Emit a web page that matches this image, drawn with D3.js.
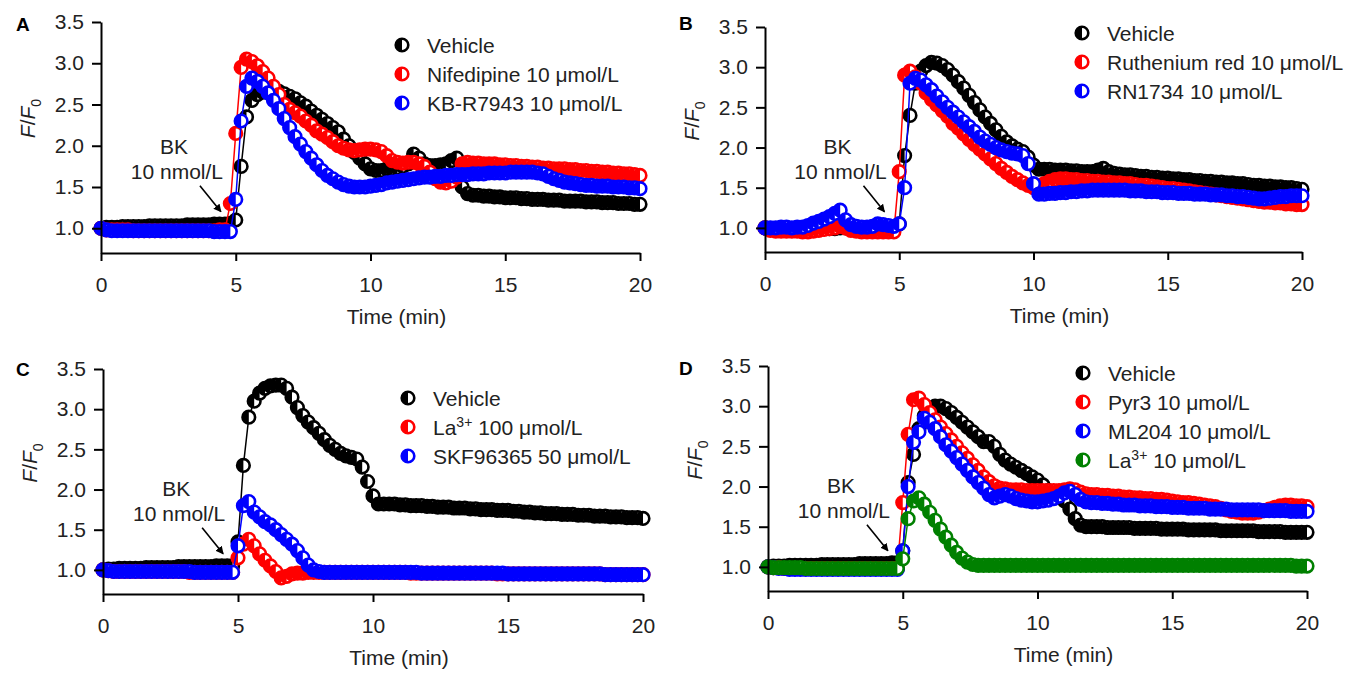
<!DOCTYPE html>
<html>
<head>
<meta charset="utf-8">
<script src="https://cdn.jsdelivr.net/npm/d3@7"></script>
<style>
	body { margin: 0; background: #fff; }
	text { font-family: "Liberation Sans", Arial, sans-serif; }
</style>
</head>
<body>
<svg id="fig" width="1349" height="675"></svg>
<script>
// sampling times (min), shared by every trace
const times = [
	0,0.2,0.4,0.6,0.8,1,1.2,1.4,1.6,1.8,
	2,2.2,2.4,2.6,2.8,3,3.2,3.4,3.6,3.8,
	4,4.2,4.4,4.6,4.8,5,5.2,5.4,5.6,5.8,
	6,6.2,6.4,6.6,6.8,7,7.2,7.4,7.6,7.8,
	8,8.2,8.4,8.6,8.8,9,9.2,9.4,9.6,9.8,
	10,10.2,10.4,10.6,10.8,11,11.2,11.4,11.6,11.8,
	12,12.2,12.4,12.6,12.8,13,13.2,13.4,13.6,13.8,
	14,14.2,14.4,14.6,14.8,15,15.2,15.4,15.6,15.8,
	16,16.2,16.4,16.6,16.8,17,17.2,17.4,17.6,17.8,
	18,18.2,18.4,18.6,18.8,19,19.2,19.4,19.6,19.8,
	20];

const xTicks = [0, 5, 10, 15, 20];
const yTicks = [1.0, 1.5, 2.0, 2.5, 3.0, 3.5];

// panel A
const vehicleA = [
	1.00,1.01,1.01,1.01,1.02,1.02,1.02,1.02,1.02,1.03,
	1.03,1.03,1.03,1.03,1.03,1.03,1.04,1.04,1.04,1.04,
	1.04,1.05,1.05,1.05,1.06,1.10,1.75,2.35,2.55,2.62,
	2.65,2.68,2.67,2.66,2.63,2.60,2.57,2.52,2.48,2.42,
	2.37,2.32,2.27,2.22,2.17,2.08,2.00,1.92,1.85,1.78,
	1.72,1.70,1.70,1.72,1.72,1.73,1.75,1.78,1.90,1.85,
	1.78,1.76,1.76,1.77,1.78,1.82,1.85,1.50,1.42,1.40,
	1.40,1.39,1.39,1.38,1.38,1.37,1.37,1.37,1.36,1.36,
	1.35,1.35,1.35,1.34,1.34,1.34,1.33,1.33,1.33,1.33,
	1.32,1.32,1.32,1.31,1.31,1.31,1.30,1.30,1.30,1.29,
	1.29];
const nifedipineA = [
	1.00,0.98,0.98,0.98,0.98,0.98,0.97,0.97,0.97,0.97,
	0.97,0.97,0.97,0.97,0.97,0.97,0.97,0.97,0.97,0.97,
	0.97,0.97,0.98,0.98,1.30,2.15,2.95,3.05,3.02,2.97,
	2.90,2.82,2.72,2.62,2.50,2.44,2.40,2.36,2.30,2.25,
	2.18,2.14,2.10,2.05,2.00,1.97,1.95,1.94,1.95,1.96,
	1.96,1.95,1.93,1.88,1.82,1.80,1.79,1.80,1.80,1.78,
	1.75,1.68,1.60,1.56,1.55,1.57,1.62,1.78,1.80,1.79,
	1.79,1.78,1.78,1.78,1.77,1.77,1.76,1.76,1.75,1.75,
	1.74,1.74,1.73,1.73,1.72,1.72,1.72,1.71,1.71,1.70,
	1.70,1.69,1.69,1.68,1.68,1.67,1.67,1.66,1.66,1.65,
	1.64];
const kbr7943A = [
	1.00,0.98,0.97,0.97,0.97,0.97,0.97,0.97,0.97,0.97,
	0.97,0.97,0.97,0.97,0.97,0.97,0.97,0.97,0.97,0.97,
	0.97,0.96,0.96,0.96,0.96,1.35,2.30,2.72,2.82,2.78,
	2.72,2.64,2.55,2.45,2.33,2.22,2.11,2.02,1.93,1.85,
	1.77,1.70,1.64,1.60,1.56,1.53,1.51,1.50,1.50,1.50,
	1.51,1.52,1.53,1.55,1.56,1.57,1.58,1.59,1.60,1.61,
	1.62,1.62,1.63,1.63,1.64,1.64,1.65,1.65,1.65,1.66,
	1.66,1.66,1.67,1.67,1.67,1.67,1.68,1.68,1.68,1.68,
	1.68,1.67,1.66,1.63,1.60,1.58,1.56,1.55,1.54,1.53,
	1.52,1.52,1.51,1.51,1.51,1.50,1.50,1.50,1.49,1.49,
	1.48];

// panel B
const vehicleB = [
	1.00,0.99,0.99,0.99,0.99,0.99,0.99,0.99,0.99,0.99,
	0.99,0.99,0.99,0.99,1.00,1.00,1.00,1.00,1.00,1.00,
	1.00,1.00,1.00,1.01,1.01,1.05,1.90,2.40,2.80,2.95,
	3.02,3.06,3.05,3.02,2.97,2.90,2.82,2.74,2.65,2.56,
	2.47,2.38,2.30,2.22,2.14,2.07,2.02,1.98,1.95,1.88,
	1.78,1.73,1.73,1.73,1.72,1.72,1.72,1.71,1.71,1.70,
	1.70,1.70,1.72,1.74,1.70,1.68,1.67,1.66,1.66,1.65,
	1.64,1.64,1.63,1.63,1.62,1.62,1.61,1.61,1.60,1.60,
	1.59,1.59,1.58,1.58,1.57,1.57,1.56,1.56,1.55,1.55,
	1.54,1.53,1.53,1.52,1.52,1.51,1.51,1.50,1.50,1.49,
	1.48];
const rutheniumB = [
	1.00,0.97,0.96,0.96,0.96,0.96,0.96,0.95,0.95,0.96,
	0.97,0.98,0.99,1.00,1.02,1.00,0.97,0.96,0.95,0.95,
	0.95,0.95,0.95,0.95,0.95,1.70,2.90,2.95,2.88,2.80,
	2.68,2.60,2.53,2.46,2.39,2.30,2.24,2.17,2.10,2.04,
	1.98,1.92,1.86,1.80,1.74,1.69,1.64,1.60,1.56,1.53,
	1.50,1.50,1.55,1.58,1.60,1.61,1.61,1.60,1.60,1.59,
	1.59,1.58,1.58,1.57,1.57,1.56,1.56,1.55,1.55,1.54,
	1.53,1.53,1.52,1.51,1.50,1.49,1.49,1.48,1.47,1.46,
	1.45,1.44,1.43,1.42,1.41,1.40,1.39,1.38,1.37,1.36,
	1.35,1.34,1.33,1.32,1.32,1.31,1.31,1.30,1.30,1.29,
	1.29];
const rn1734B = [
	1.00,1.00,1.00,1.01,1.01,1.00,1.01,1.01,1.03,1.06,
	1.08,1.11,1.14,1.18,1.22,1.10,1.04,1.02,1.01,1.01,
	1.02,1.05,1.04,1.03,1.02,1.05,1.50,2.80,2.86,2.84,
	2.78,2.72,2.64,2.57,2.50,2.44,2.38,2.32,2.26,2.20,
	2.13,2.08,2.04,2.00,1.97,1.95,1.93,1.92,1.90,1.80,
	1.55,1.42,1.42,1.43,1.43,1.44,1.44,1.45,1.45,1.46,
	1.46,1.47,1.47,1.47,1.47,1.47,1.47,1.47,1.46,1.46,
	1.46,1.45,1.45,1.45,1.44,1.44,1.44,1.43,1.43,1.43,
	1.42,1.42,1.42,1.41,1.41,1.41,1.40,1.40,1.39,1.39,
	1.38,1.37,1.36,1.36,1.37,1.38,1.39,1.39,1.40,1.40,
	1.40];

// panel C
const vehicleC = [
	1.00,1.01,1.01,1.02,1.02,1.02,1.02,1.02,1.03,1.03,
	1.03,1.03,1.03,1.03,1.04,1.04,1.04,1.04,1.04,1.04,
	1.04,1.05,1.05,1.05,1.05,1.35,2.30,2.90,3.10,3.20,
	3.26,3.29,3.30,3.30,3.26,3.15,3.02,2.92,2.84,2.77,
	2.70,2.62,2.55,2.50,2.45,2.42,2.40,2.38,2.28,2.10,
	1.92,1.82,1.82,1.82,1.82,1.81,1.81,1.80,1.80,1.80,
	1.79,1.79,1.78,1.78,1.78,1.77,1.77,1.77,1.76,1.76,
	1.75,1.75,1.75,1.74,1.74,1.74,1.73,1.73,1.72,1.72,
	1.71,1.71,1.70,1.70,1.70,1.69,1.69,1.69,1.68,1.68,
	1.68,1.67,1.67,1.67,1.66,1.66,1.66,1.65,1.65,1.65,
	1.64];
const la100C = [
	1.00,0.99,0.98,0.98,0.98,0.98,0.98,0.98,0.98,0.98,
	0.98,0.98,0.98,0.98,0.98,0.98,0.97,0.97,0.97,0.97,
	0.97,0.97,0.97,0.97,0.97,1.15,1.32,1.38,1.30,1.20,
	1.12,1.05,0.98,0.90,0.92,0.95,0.96,0.96,0.97,0.97,
	0.97,0.97,0.97,0.97,0.97,0.97,0.97,0.97,0.97,0.97,
	0.97,0.97,0.97,0.97,0.97,0.97,0.97,0.96,0.96,0.96,
	0.96,0.96,0.96,0.96,0.96,0.96,0.96,0.96,0.96,0.96,
	0.96,0.96,0.96,0.95,0.95,0.95,0.95,0.95,0.95,0.95,
	0.95,0.95,0.95,0.95,0.95,0.95,0.95,0.95,0.95,0.95,
	0.95,0.95,0.95,0.94,0.94,0.94,0.94,0.94,0.94,0.94,
	0.94];
const skfC = [
	1.00,0.99,0.98,0.98,0.98,0.98,0.98,0.98,0.98,0.98,
	0.98,0.98,0.98,0.98,0.98,0.98,0.98,0.97,0.97,0.97,
	0.97,0.97,0.97,0.97,0.97,1.30,1.80,1.85,1.72,1.66,
	1.60,1.56,1.50,1.44,1.38,1.32,1.24,1.15,1.06,1.00,
	0.98,0.97,0.97,0.97,0.97,0.97,0.97,0.97,0.97,0.97,
	0.97,0.97,0.97,0.97,0.97,0.97,0.97,0.97,0.97,0.96,
	0.96,0.96,0.96,0.96,0.96,0.96,0.96,0.96,0.96,0.96,
	0.96,0.96,0.96,0.96,0.96,0.95,0.95,0.95,0.95,0.95,
	0.95,0.95,0.95,0.95,0.95,0.95,0.95,0.95,0.95,0.95,
	0.95,0.95,0.95,0.94,0.94,0.94,0.94,0.94,0.94,0.94,
	0.94];

// panel D
const vehicleD = [
	1.00,1.01,1.01,1.01,1.02,1.02,1.02,1.02,1.02,1.02,
	1.03,1.03,1.03,1.03,1.03,1.03,1.03,1.04,1.04,1.04,
	1.04,1.04,1.04,1.05,1.05,1.20,2.05,2.40,2.72,2.88,
	2.95,3.00,3.00,2.97,2.92,2.86,2.80,2.74,2.68,2.62,
	2.56,2.56,2.50,2.40,2.33,2.28,2.24,2.20,2.16,2.12,
	2.08,2.02,1.95,1.90,1.87,1.82,1.72,1.60,1.52,1.50,
	1.50,1.50,1.50,1.49,1.49,1.49,1.49,1.49,1.48,1.48,
	1.48,1.48,1.48,1.47,1.47,1.47,1.47,1.47,1.46,1.46,
	1.46,1.46,1.46,1.46,1.45,1.45,1.45,1.45,1.45,1.45,
	1.45,1.44,1.44,1.44,1.44,1.44,1.43,1.43,1.43,1.43,
	1.43];
const pyr3D = [
	1.00,0.99,0.99,0.98,0.98,0.98,0.98,0.98,0.98,0.98,
	0.98,0.98,0.98,0.98,0.98,0.98,0.98,0.98,0.98,0.98,
	0.98,0.98,0.98,0.98,0.98,1.80,2.65,3.08,3.10,3.02,
	2.92,2.83,2.74,2.66,2.58,2.50,2.42,2.35,2.27,2.20,
	2.12,2.06,2.01,1.98,1.97,1.96,1.96,1.96,1.95,1.95,
	1.95,1.95,1.95,1.95,1.95,1.96,1.97,1.96,1.93,1.91,
	1.90,1.90,1.89,1.89,1.88,1.88,1.87,1.87,1.86,1.86,
	1.85,1.85,1.84,1.84,1.83,1.82,1.81,1.80,1.80,1.79,
	1.78,1.77,1.76,1.75,1.73,1.71,1.69,1.68,1.67,1.67,
	1.67,1.68,1.70,1.72,1.74,1.76,1.77,1.77,1.76,1.76,
	1.75];
const ml204D = [
	1.00,0.99,0.98,0.98,0.97,0.97,0.97,0.97,0.97,0.97,
	0.97,0.97,0.97,0.97,0.97,0.97,0.97,0.97,0.97,0.97,
	0.97,0.97,0.97,0.97,0.97,1.20,2.00,2.55,2.68,2.85,
	2.80,2.72,2.62,2.52,2.44,2.36,2.28,2.20,2.12,2.05,
	1.98,1.90,1.86,1.88,1.90,1.88,1.85,1.83,1.82,1.81,
	1.81,1.82,1.83,1.85,1.88,1.92,1.94,1.90,1.84,1.81,
	1.80,1.80,1.79,1.79,1.78,1.78,1.77,1.77,1.77,1.76,
	1.76,1.76,1.75,1.75,1.75,1.74,1.74,1.74,1.73,1.73,
	1.73,1.73,1.72,1.72,1.72,1.72,1.71,1.71,1.71,1.71,
	1.71,1.71,1.70,1.70,1.70,1.70,1.70,1.69,1.69,1.69,
	1.69];
const la10D = [
	1.00,0.99,0.99,0.99,0.99,0.99,0.99,0.98,0.98,0.98,
	0.98,0.98,0.98,0.98,0.98,0.98,0.98,0.98,0.98,0.98,
	0.98,0.98,0.98,0.98,0.98,1.10,1.60,1.82,1.86,1.78,
	1.68,1.58,1.47,1.37,1.27,1.18,1.11,1.06,1.03,1.02,
	1.02,1.02,1.02,1.02,1.02,1.02,1.02,1.02,1.02,1.02,
	1.02,1.02,1.02,1.02,1.02,1.02,1.02,1.02,1.02,1.02,
	1.02,1.02,1.02,1.02,1.02,1.02,1.02,1.02,1.02,1.02,
	1.02,1.02,1.02,1.02,1.02,1.02,1.02,1.02,1.02,1.02,
	1.02,1.02,1.02,1.02,1.02,1.02,1.02,1.02,1.02,1.02,
	1.02,1.02,1.02,1.02,1.02,1.02,1.02,1.02,1.01,1.01,
	1.01];

// legend labels ("^...^" marks a superscript)
const labelsA = ["Vehicle", "Nifedipine 10 μmol/L", "KB-R7943 10 μmol/L"];
const labelsB = ["Vehicle", "Ruthenium red 10 μmol/L", "RN1734 10 μmol/L"];
const labelsC = ["Vehicle", "La^3+^ 100 μmol/L", "SKF96365 50 μmol/L"];
const labelsD = ["Vehicle", "Pyr3 10 μmol/L", "ML204 10 μmol/L", "La^3+^ 10 μmol/L"];

const colors = ["#000000", "#ff0000", "#0000ff", "#008000"];

const panels = [
	{letter: "A", lx: 16, ly: 31, x0: 101, x1: 640, yTop: 22, yBot: 253, legX: 402, legY: 45,
		series: [vehicleA, nifedipineA, kbr7943A], labels: labelsA},
	{letter: "B", lx: 679, ly: 30, x0: 765, x1: 1302, yTop: 27, yBot: 252, legX: 1082, legY: 33,
		series: [vehicleB, rutheniumB, rn1734B], labels: labelsB},
	{letter: "C", lx: 16, ly: 376, x0: 103, x1: 643, yTop: 369, yBot: 594, legX: 408, legY: 398,
		series: [vehicleC, la100C, skfC], labels: labelsC},
	{letter: "D", lx: 679, ly: 375, x0: 768, x1: 1307, yTop: 366, yBot: 591, legX: 1083, legY: 373,
		series: [vehicleD, pyr3D, ml204D, la10D], labels: labelsD}
];

const svg = d3.select("#fig");

svg.append("defs").append("marker")
	.attr("id", "arrow")
	.attr("viewBox", "0 0 10 10")
	.attr("refX", 9).attr("refY", 5)
	.attr("markerWidth", 8).attr("markerHeight", 8)
	.attr("markerUnits", "userSpaceOnUse")
	.attr("orient", "auto")
	.append("path")
	.attr("d", "M0,0 L10,5 L0,10 Z")
	.attr("fill", "#000");

const R = 6.3;

const drawMarker = (sel, color) => {
	sel.append("circle")
		.attr("r", R)
		.attr("fill", "#fff")
		.attr("stroke", color)
		.attr("stroke-width", 2.6);
	sel.append("path")
		.attr("d", "M0," + (-R) + " A" + R + "," + R + " 0 0,0 0," + R + " Z")
		.attr("fill", color);
};

const addLabel = (textSel, label) => {
	label.split("^").forEach((part, i) => {
		let t = textSel.append("tspan").text(part);
		if (i % 2 === 1) {
			t.attr("font-size", "14px").attr("dy", "-8");
		} else if (i > 0) {
			t.attr("dy", "8");
		}
	});
};

panels.forEach(p => {
	let x = d3.scaleLinear().domain([0, 20]).range([p.x0, p.x1]);
	let y = d3.scaleLinear().domain([0.7, 3.5]).range([p.yBot, p.yTop]);
	let g = svg.append("g");

	// traces
	p.series.forEach((vals, si) => {
		let pts = times.map((t, i) => ({t: t, v: vals[i]}));
		let line = d3.line().x(d => x(d.t)).y(d => y(d.v));
		g.append("path")
			.attr("d", line(pts))
			.attr("fill", "none")
			.attr("stroke", colors[si])
			.attr("stroke-width", 1.5);
		g.selectAll("g.pt" + si)
			.data(pts)
			.enter().append("g")
			.attr("class", "pt" + si)
			.attr("transform", d => "translate(" + x(d.t) + "," + y(d.v) + ")")
			.each(function () { drawMarker(d3.select(this), colors[si]); });
	});

	// axes
	let yAxis = d3.axisLeft(y).tickValues(yTicks).tickFormat(d3.format(".1f"))
		.tickSize(9).tickPadding(8).tickSizeOuter(0);
	let xAxis = d3.axisBottom(x).tickValues(xTicks)
		.tickSize(8).tickPadding(16).tickSizeOuter(0);

	let ya = g.append("g").attr("transform", "translate(" + p.x0 + ",0)").call(yAxis);
	let xa = g.append("g").attr("transform", "translate(0," + p.yBot + ")").call(xAxis);
	[ya, xa].forEach(a => {
		a.selectAll("path, line").attr("stroke", "#000").attr("stroke-width", 2);
		a.selectAll("text").attr("font-size", "21px").attr("fill", "#222")
			.attr("font-family", "'Liberation Sans', Arial, sans-serif");
	});

	// axis titles
	g.append("text")
		.attr("x", (p.x0 + p.x1) / 2 + 26)
		.attr("y", p.yBot + 71)
		.attr("text-anchor", "middle")
		.attr("font-size", "21px")
		.attr("fill", "#222")
		.text("Time (min)");

	let yl = g.append("text")
		.attr("transform", "translate(" + (p.x0 - 66) + "," + y(2.33) + ") rotate(-90)")
		.attr("text-anchor", "middle")
		.attr("font-size", "21px")
		.attr("fill", "#222");
	yl.append("tspan").attr("font-style", "italic").text("F");
	yl.append("tspan").text("/");
	yl.append("tspan").attr("font-style", "italic").text("F");
	yl.append("tspan").attr("font-size", "14px").attr("dy", "6").text("0");

	// panel letter
	g.append("text")
		.attr("x", p.lx).attr("y", p.ly)
		.attr("font-size", "19px")
		.attr("font-weight", "bold")
		.text(p.letter);

	// BK annotation
	let tipX = x(4.45), tipY = y(1.2);
	g.append("text")
		.attr("x", tipX - 47).attr("y", tipY - 58)
		.attr("text-anchor", "middle")
		.attr("font-size", "21px").attr("fill", "#222")
		.text("BK");
	g.append("text")
		.attr("x", tipX - 44).attr("y", tipY - 33)
		.attr("text-anchor", "middle")
		.attr("font-size", "21px").attr("fill", "#222")
		.text("10 nmol/L");
	g.append("line")
		.attr("x1", tipX - 21).attr("y1", tipY - 26)
		.attr("x2", tipX).attr("y2", tipY)
		.attr("stroke", "#000").attr("stroke-width", 1.6)
		.attr("marker-end", "url(#arrow)");

	// legend
	p.labels.forEach((lab, i) => {
		let ly = p.legY + i * 29;
		let m = g.append("g").attr("transform", "translate(" + p.legX + "," + ly + ")");
		drawMarker(m, colors[i]);
		let t = g.append("text")
			.attr("x", p.legX + 25).attr("y", ly + 7.5)
			.attr("font-size", "21px").attr("fill", "#222");
		addLabel(t, lab);
	});
});
</script>
</body>
</html>
